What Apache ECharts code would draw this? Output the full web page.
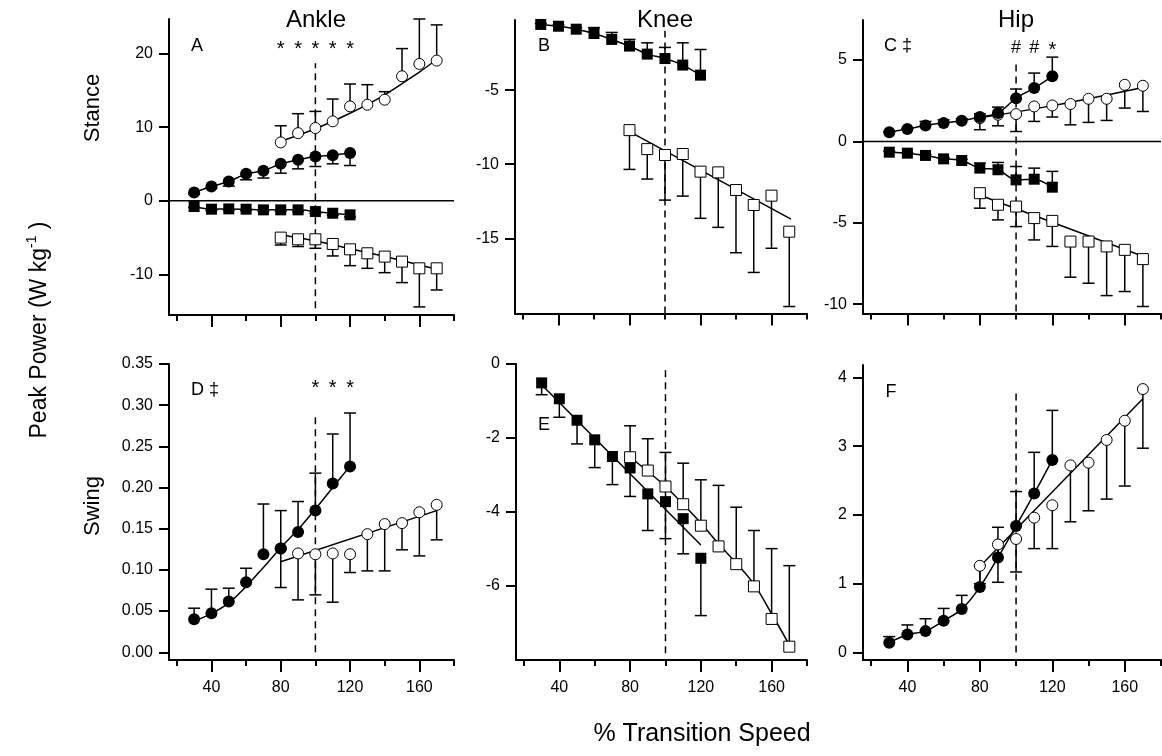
<!DOCTYPE html>
<html>
<head>
<meta charset="utf-8">
<script src="https://cdn.jsdelivr.net/npm/echarts@6/dist/echarts.min.js"></script>
<style>
  html, body { margin: 0; padding: 0; background: #fff; }
  #chart { width: 1162px; height: 756px; }
</style>
</head>
<body>
<div id="chart"></div>
<script>
  // % transition speed for walking (filled) and running (open) trials
  const walkX = [30, 40, 50, 60, 70, 80, 90, 100, 110, 120];
  const runX = [80, 90, 100, 110, 120, 130, 140, 150, 160, 170];

  // A - ankle stance
  const aWalkPos = [1.13, 1.95, 2.63, 3.67, 4.08, 5.03, 5.58, 6.03, 6.21, 6.49];
  const aWalkPosErr = [0.95, 1.75, 2.0, 2.86, 3.1, 3.76, 4.35, 4.67, 5.03, 4.8];
  const aRunPos = [7.94, 9.2, 9.89, 10.8, 12.83, 13.06, 13.74, 16.92, 18.6, 19.05];
  const aRunPosErr = [10.2, 11.84, 12.15, 13.83, 15.87, 15.78, 14.83, 20.68, 24.7, 23.9];
  const aWalkNeg = [-0.77, -1.13, -1.09, -1.13, -1.22, -1.22, -1.22, -1.45, -1.68, -1.9];
  const aWalkNegErr = [-0.9, -1.3, -1.25, -1.3, -1.4, -1.4, -1.45, -1.7, -1.95, -2.2];
  const aRunNeg = [-4.99, -5.22, -5.22, -5.85, -6.58, -7.12, -7.57, -8.25, -9.16, -9.16];
  const aRunNegErr = [-5.99, -6.2, -6.44, -7.48, -8.8, -9.16, -9.75, -11.1, -14.4, -12.1];
  const aRunPosFitX = [80, 100, 120, 140, 160, 170];
  const aRunPosFitY = [8.1, 9.8, 11.9, 14.4, 17.5, 19.2];
  const aRunNegFitX = [80, 100, 120, 140, 160, 172];
  const aRunNegFitY = [-4.6, -5.45, -6.5, -7.55, -8.7, -9.35];

  // B - knee stance
  const bWalkNeg = [-0.57, -0.69, -0.89, -1.18, -1.58, -2.03, -2.57, -2.87, -3.31, -3.99];
  const bWalkNegErr = [-0.5, -0.6, -0.8, -0.78, -1.11, -1.58, -1.81, -2.12, -1.81, -2.26];
  const bRunNeg = [-7.7, -8.98, -9.38, -9.31, -10.5, -10.55, -11.74, -12.75, -12.12, -14.55];
  const bRunNegErr = [-10.35, -11.0, -12.42, -12.15, -13.65, -14.26, -15.97, -17.3, -15.67, -19.6];
  const bRunNegFitX = [80, 171];
  const bRunNegFitY = [-7.8, -13.7];

  // C - hip stance
  const cWalkPos = [0.57, 0.76, 0.98, 1.13, 1.27, 1.5, 1.74, 2.66, 3.28, 4.0];
  const cWalkPosErr = [0.6, 0.8, 1.23, 1.33, 1.4, 1.7, 2.11, 3.22, 4.2, 5.18];
  const cRunPos = [1.43, 1.64, 1.68, 2.15, 2.21, 2.3, 2.62, 2.62, 3.48, 3.42];
  const cRunPosErr = [0.72, 0.96, 0.61, 1.23, 1.5, 1.02, 1.17, 1.29, 2.05, 1.84];
  const cWalkNeg = [-0.66, -0.72, -0.86, -1.07, -1.17, -1.64, -1.74, -2.36, -2.32, -2.81];
  const cWalkNegErr = [-0.6, -0.7, -0.8, -1.0, -1.1, -1.33, -1.29, -1.54, -1.64, -1.84];
  const cRunNeg = [-3.18, -3.89, -4.0, -4.71, -4.88, -6.15, -6.15, -6.45, -6.66, -7.23];
  const cRunNegErr = [-4.1, -4.82, -5.23, -6.05, -6.45, -8.34, -8.71, -9.47, -9.22, -10.14];
  const cRunPosFitX = [80, 120, 170];
  const cRunPosFitY = [1.45, 2.2, 3.32];
  const cRunNegFitX = [82, 170];
  const cRunNegFitY = [-3.38, -7.05];

  // D - ankle swing
  const dWalk = [0.040, 0.0474, 0.0616, 0.085, 0.119, 0.126, 0.146, 0.172, 0.205, 0.2256];
  const dWalkErr = [0.0535, 0.0766, 0.0778, 0.102, 0.180, 0.172, 0.183, 0.2175, 0.265, 0.2905];
  const dRun = [0.126, 0.120, 0.119, 0.120, 0.119, 0.1434, 0.1556, 0.1568, 0.170, 0.179];
  const dRunErr = [0.0786, 0.0636, 0.0697, 0.0608, 0.0968, 0.0988, 0.0988, 0.1244, 0.117, 0.1365];
  const dWalkFitY = [0.038, 0.047, 0.06, 0.08, 0.103, 0.127, 0.149, 0.174, 0.2, 0.226];
  const dRunFitX = [80, 170];
  const dRunFitY = [0.11, 0.172];

  // E - knee swing
  const eWalk = [-0.51, -0.94, -1.52, -2.05, -2.5, -2.81, -3.51, -3.72, -4.18, -5.25];
  const eWalkErr = [-0.83, -1.44, -2.16, -2.8, -3.26, -3.58, -4.5, -4.72, -5.13, -6.8];
  const eRun = [-2.52, -2.88, -3.31, -3.79, -4.37, -4.93, -5.41, -6.01, -6.89, -7.64];
  const eRunErr = [-1.67, -2.02, -2.39, -2.68, -3.13, -3.28, -3.87, -4.5, -4.99, -5.45];
  const eWalkFitX = [30, 120];
  const eWalkFitY = [-0.56, -4.89];
  const eRunFitY = [-2.52, -2.9, -3.31, -3.79, -4.3, -4.86, -5.38, -5.95, -6.75, -7.59];

  // F - hip swing
  const fWalk = [0.14, 0.26, 0.31, 0.46, 0.63, 0.95, 1.38, 1.84, 2.31, 2.8];
  const fWalkErr = [0.23, 0.4, 0.49, 0.64, 0.83, 1.27, 1.82, 2.34, 2.91, 3.52];
  const fRun = [1.26, 1.57, 1.65, 1.96, 2.14, 2.72, 2.76, 3.09, 3.37, 3.83];
  const fRunErr = [1.0, 1.02, 1.17, 1.51, 1.51, 1.9, 2.06, 2.23, 2.42, 2.97];
  const fRunFitX = [80, 170];
  const fRunFitY = [1.25, 3.69];

  // axes
  const xMajor = [40, 80, 120, 160];
  const xMinor = [20, 60, 100, 140, 180];
  const yRanges = [[-15.5, 24.7], [-20.07, -0.27], [-10.57, 7.46], [-0.0094, 0.35], [-8, 0], [-0.11, 4.18]];
  const yTicks = [[-10, 0, 10, 20], [-15, -10, -5], [-10, -5, 0, 5],
    [0, 0.05, 0.1, 0.15, 0.2, 0.25, 0.3, 0.35], [-6, -4, -2, 0], [0, 1, 2, 3, 4]];
  const dashSpan = [[-14.6, 18.7], [-20.07, -1.0], [-10.45, 4.8], [0, 0.29], [-7.82, -0.15], [0, 3.82]];
  const X_MIN = 15.5, X_MAX = 180;

  const FONT = '"Liberation Sans", Arial, Helvetica, sans-serif';

  const grids = [
    { left: 169, top: 19, width: 285, height: 296 },
    { left: 515, top: 20, width: 292, height: 293.5 },
    { left: 863, top: 20, width: 298, height: 293.5 },
    { left: 169, top: 364, width: 285, height: 296 },
    { left: 516, top: 364, width: 291, height: 296 },
    { left: 863, top: 365, width: 298, height: 295 }
  ];

  const chart = echarts.init(document.getElementById('chart'));

  function zip(xs, ys) { return xs.map((x, i) => [x, ys[i]]); }

  function errSeries(g, xs, ys, es) {
    return {
      type: 'custom', xAxisIndex: g * 2, yAxisIndex: g, z: 2, silent: true,
      data: xs.map((x, i) => [x, ys[i], es[i]]),
      encode: { x: 0, y: [1, 2] },
      renderItem: function (params, api) {
        const p0 = api.coord([api.value(0), api.value(1)]);
        const p1 = api.coord([api.value(0), api.value(2)]);
        const st = { stroke: '#000', lineWidth: 1.5 };
        return {
          type: 'group', children: [
            { type: 'line', shape: { x1: p0[0], y1: p0[1], x2: p1[0], y2: p1[1] }, style: st },
            { type: 'line', shape: { x1: p1[0] - 6, y1: p1[1], x2: p1[0] + 6, y2: p1[1] }, style: st }
          ]
        };
      }
    };
  }

  function markSeries(g, xs, ys, shape, filled, joined) {
    return {
      type: joined ? 'line' : 'scatter', xAxisIndex: g * 2, yAxisIndex: g, z: 4, silent: true,
      data: zip(xs, ys),
      symbol: shape,
      symbolSize: shape === 'circle' && filled ? 12 : 11,
      showAllSymbol: true,
      smooth: joined ? 0.3 : undefined,
      lineStyle: joined ? { color: '#000', width: 1.5 } : undefined,
      itemStyle: filled ? { color: '#000', opacity: 1 } : { color: '#fff', borderColor: '#000', borderWidth: 1, opacity: 1 }
    };
  }

  function fitSeries(g, xs, ys) {
    return {
      type: 'line', xAxisIndex: g * 2, yAxisIndex: g, z: 3, silent: true,
      data: zip(xs, ys), symbol: 'none', smooth: xs.length > 2 ? 0.4 : false,
      lineStyle: { color: '#000', width: 1.5 }
    };
  }

  function refLine(g, pts, dashed) {
    return {
      type: 'line', xAxisIndex: g * 2, yAxisIndex: g, z: 1, silent: true,
      data: pts, symbol: 'none',
      lineStyle: { color: '#000', width: 1.5, type: dashed ? [7, 5] : 'solid' }
    };
  }

  const xAxis = [], yAxis = [];
  grids.forEach((gr, g) => {
    xAxis.push({
      gridIndex: g, type: 'value', position: 'bottom', min: X_MIN, max: X_MAX,
      axisLine: { onZero: false, lineStyle: { color: '#000', width: 2 } },
      axisTick: { customValues: xMajor, length: 12, lineStyle: { color: '#000', width: 2 } },
      axisLabel: { show: g >= 3, customValues: xMajor, color: '#000', fontSize: 16, fontFamily: FONT, margin: 20 },
      splitLine: { show: false }
    });
    xAxis.push({
      gridIndex: g, type: 'value', position: 'bottom', min: X_MIN, max: X_MAX,
      axisLine: { show: false, onZero: false },
      axisTick: { customValues: xMinor, length: 6, lineStyle: { color: '#000', width: 2 } },
      axisLabel: { show: false },
      splitLine: { show: false }
    });
    yAxis.push({
      gridIndex: g, type: 'value', min: yRanges[g][0], max: yRanges[g][1],
      axisLine: { show: true, onZero: false, lineStyle: { color: '#000', width: 2 } },
      axisTick: { show: true, customValues: yTicks[g], length: 10, lineStyle: { color: '#000', width: 2 } },
      axisLabel: {
        customValues: yTicks[g], color: '#000', fontSize: 16, fontFamily: FONT, margin: 16,
        formatter: g === 3 ? (v) => v.toFixed(2) : (v) => String(v)
      },
      splitLine: { show: false }
    });
  });

  const series = [];
  // dashed 100% lines
  dashSpan.forEach((s, g) => series.push(refLine(g, [[100, s[0]], [100, s[1]]], true)));
  // zero lines in A and C
  series.push(refLine(0, [[X_MIN, 0], [X_MAX, 0]], false));
  series.push(refLine(2, [[X_MIN, 0], [X_MAX, 0]], false));

  // A
  series.push(errSeries(0, walkX, aWalkPos, aWalkPosErr), markSeries(0, walkX, aWalkPos, 'circle', true, true));
  series.push(errSeries(0, runX, aRunPos, aRunPosErr), fitSeries(0, aRunPosFitX, aRunPosFitY), markSeries(0, runX, aRunPos, 'circle', false, false));
  series.push(errSeries(0, walkX, aWalkNeg, aWalkNegErr), markSeries(0, walkX, aWalkNeg, 'rect', true, true));
  series.push(errSeries(0, runX, aRunNeg, aRunNegErr), fitSeries(0, aRunNegFitX, aRunNegFitY), markSeries(0, runX, aRunNeg, 'rect', false, false));
  // B
  series.push(errSeries(1, walkX, bWalkNeg, bWalkNegErr), markSeries(1, walkX, bWalkNeg, 'rect', true, true));
  series.push(errSeries(1, runX, bRunNeg, bRunNegErr), fitSeries(1, bRunNegFitX, bRunNegFitY), markSeries(1, runX, bRunNeg, 'rect', false, false));
  // C
  series.push(errSeries(2, runX, cRunPos, cRunPosErr), fitSeries(2, cRunPosFitX, cRunPosFitY), markSeries(2, runX, cRunPos, 'circle', false, false));
  series.push(errSeries(2, walkX, cWalkPos, cWalkPosErr), markSeries(2, walkX, cWalkPos, 'circle', true, true));
  series.push(errSeries(2, runX, cRunNeg, cRunNegErr), fitSeries(2, cRunNegFitX, cRunNegFitY), markSeries(2, runX, cRunNeg, 'rect', false, false));
  series.push(errSeries(2, walkX, cWalkNeg, cWalkNegErr), markSeries(2, walkX, cWalkNeg, 'rect', true, true));
  // D
  series.push(errSeries(3, runX, dRun, dRunErr), fitSeries(3, dRunFitX, dRunFitY), markSeries(3, runX, dRun, 'circle', false, false));
  series.push(errSeries(3, walkX, dWalk, dWalkErr), fitSeries(3, walkX, dWalkFitY), markSeries(3, walkX, dWalk, 'circle', true, false));
  // E
  series.push(errSeries(4, runX, eRun, eRunErr), fitSeries(4, runX, eRunFitY), markSeries(4, runX, eRun, 'rect', false, false));
  series.push(errSeries(4, walkX, eWalk, eWalkErr), fitSeries(4, eWalkFitX, eWalkFitY), markSeries(4, walkX, eWalk, 'rect', true, false));
  // F
  series.push(errSeries(5, runX, fRun, fRunErr), fitSeries(5, fRunFitX, fRunFitY), markSeries(5, runX, fRun, 'circle', false, false));
  series.push(errSeries(5, walkX, fWalk, fWalkErr), markSeries(5, walkX, fWalk, 'circle', true, true));

  function txt(x, y, text, size, extra) {
    return Object.assign({
      type: 'text', x: x, y: y, silent: true,
      style: { text: text, fontSize: size, fontFamily: FONT, fill: '#000', align: 'center', verticalAlign: 'middle' }
    }, extra || {});
  }

  const graphic = [
    txt(316, 20, 'Ankle', 24), txt(665, 20, 'Knee', 24), txt(1016, 20, 'Hip', 24),
    txt(197, 46, 'A', 18), txt(544, 46, 'B', 18), txt(898, 46, 'C ‡', 18),
    txt(205, 390, 'D ‡', 18), txt(544, 425, 'E', 18), txt(891, 392, 'F', 18),
    txt(702, 734, '% Transition Speed', 25),
    txt(93, 108, 'Stance', 22, { rotation: Math.PI / 2 }),
    txt(93, 506, 'Swing', 22, { rotation: Math.PI / 2 }),
    {
      type: 'text', x: 40, y: 330, rotation: Math.PI / 2, silent: true,
      style: {
        text: '{a|Peak Power (W kg}{s|-1}{a| )}', align: 'center', verticalAlign: 'middle',
        rich: {
          a: { fontSize: 23, fontFamily: FONT, fill: '#000', lineHeight: 30 },
          s: { fontSize: 14, fontFamily: FONT, fill: '#000', verticalAlign: 'top', lineHeight: 30 }
        }
      }
    }
  ];

  chart.setOption({
    animation: false,
    backgroundColor: '#fff',
    grid: grids,
    xAxis: xAxis,
    yAxis: yAxis,
    series: series,
    graphic: graphic
  });

  // significance markers placed over their speeds
  const marks = [
    { g: 0, xs: [80, 90, 100, 110, 120], t: ['*', '*', '*', '*', '*'], y: 47 },
    { g: 2, xs: [100, 110, 120], t: ['#', '#', '*'], y: 48 },
    { g: 3, xs: [100, 110, 120], t: ['*', '*', '*'], y: 386 }
  ];
  marks.forEach((m) => {
    m.xs.forEach((x, i) => {
      const px = chart.convertToPixel({ xAxisIndex: m.g * 2 }, x);
      const isStar = m.t[i] === '*';
      graphic.push(txt(px, isStar ? m.y + 2 : m.y, m.t[i], isStar ? 20 : 18));
    });
  });
  chart.setOption({ graphic: graphic });
</script>
</body>
</html>
